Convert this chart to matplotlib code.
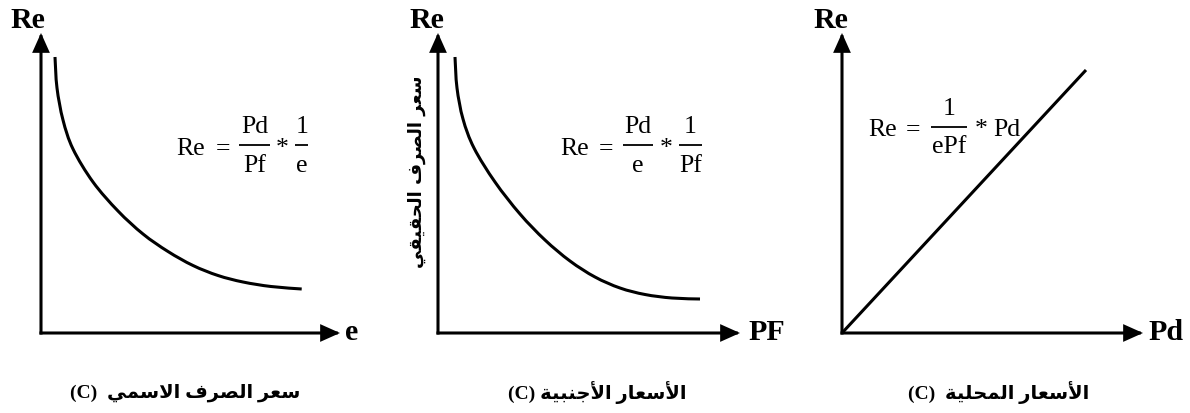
import matplotlib
matplotlib.use("Agg")
import matplotlib.pyplot as plt
from matplotlib.path import Path
from matplotlib.patches import PathPatch
from matplotlib.lines import Line2D
import numpy as np

# ---------------- data (units = pixels from each panel's origin) ----------------
curve1_x = [14, 16, 22, 32, 52, 77, 102, 127, 152, 177, 202, 230, 260.7]
curve1_y = [276, 245, 213, 184, 151, 122, 99, 81.5, 67.5, 57.5, 51, 46.5, 44]

curve2_x = [17, 19, 25, 36, 57, 82, 107, 132, 157, 182, 207, 234, 262]
curve2_y = [276, 245, 214, 185, 151, 119, 93, 72, 56, 45, 38.5, 35, 34]

line3_x = [0, 244]
line3_y = [0, 263]

axis_x_labels = ["e", "PF", "Pd"]
axis_y_label = "Re"
# equation pieces: fractions (numerator, denominator) and trailing term
eq_fracs = [[("Pd", "Pf"), ("1", "e")],
            [("Pd", "e"), ("1", "Pf")],
            [("1", "ePf")]]
eq_trail = ["", "", "Pd"]
captions_ar = ["سعر الصرف الاسمي", "الأسعار الأجنبية", "الأسعار المحلية"]
caption_tags = ["(C)  ", "(C) ", "(C)  "]
vertical_label = "سعر الصرف الحقيقي"

# ---------------- minimal Arabic shaping (matplotlib has no text shaping) ----------------
FORMS = {
    '\u0627': ('\uFE8D', '\uFE8E', None, None),
    '\u0623': ('\uFE83', '\uFE84', None, None),
    '\u0628': ('\uFE8F', '\uFE90', '\uFE91', '\uFE92'),
    '\u0629': ('\uFE93', '\uFE94', None, None),
    '\u062C': ('\uFE9D', '\uFE9E', '\uFE9F', '\uFEA0'),
    '\u062D': ('\uFEA1', '\uFEA2', '\uFEA3', '\uFEA4'),
    '\u0631': ('\uFEAD', '\uFEAE', None, None),
    '\u0633': ('\uFEB1', '\uFEB2', '\uFEB3', '\uFEB4'),
    '\u0635': ('\uFEB9', '\uFEBA', '\uFEBB', '\uFEBC'),
    '\u0639': ('\uFEC9', '\uFECA', '\uFECB', '\uFECC'),
    '\u0641': ('\uFED1', '\uFED2', '\uFED3', '\uFED4'),
    '\u0642': ('\uFED5', '\uFED6', '\uFED7', '\uFED8'),
    '\u0644': ('\uFEDD', '\uFEDE', '\uFEDF', '\uFEE0'),
    '\u0645': ('\uFEE1', '\uFEE2', '\uFEE3', '\uFEE4'),
    '\u0646': ('\uFEE5', '\uFEE6', '\uFEE7', '\uFEE8'),
    '\u064A': ('\uFEF1', '\uFEF2', '\uFEF3', '\uFEF4'),
}
LAM = '\u0644'
LIG = {'\u0627': ('\uFEFB', '\uFEFC'), '\u0623': ('\uFEF7', '\uFEF8')}


def shape_visual(text):
    items = []
    i = 0
    while i < len(text):
        c = text[i]
        if c == LAM and i + 1 < len(text) and text[i + 1] in LIG:
            items.append(('L', text[i + 1]))
            i += 2
        else:
            items.append(('C', c))
            i += 1

    def dual(it):
        return it is not None and it[0] == 'C' and it[1] in FORMS and FORMS[it[1]][2] is not None

    def arabic(it):
        return it is not None and (it[0] == 'L' or it[1] in FORMS)

    out = []
    for k, it in enumerate(items):
        prev = items[k - 1] if k > 0 else None
        nxt = items[k + 1] if k + 1 < len(items) else None
        jp = dual(prev)
        if it[0] == 'L':
            out.append(LIG[it[1]][1] if jp else LIG[it[1]][0])
            continue
        c = it[1]
        if c not in FORMS:
            out.append(c)
            continue
        iso, fin, ini, med = FORMS[c]
        jn = ini is not None and arabic(nxt)
        if jp and jn:
            out.append(med)
        elif jp:
            out.append(fin)
        elif jn:
            out.append(ini)
        else:
            out.append(iso)
    return ''.join(out)[::-1]


def smooth_path(xs, ys):
    """Catmull-Rom style cubic Bezier path through the read points."""
    P = np.column_stack([xs, ys]).astype(float)
    n = len(P)
    verts = [P[0]]
    codes = [Path.MOVETO]
    for i in range(n - 1):
        p0 = P[i - 1] if i > 0 else P[i]
        p1 = P[i]
        p2 = P[i + 1]
        p3 = P[i + 2] if i + 2 < n else P[i + 1]
        c1 = p1 + (p2 - p0) / 6.0
        c2 = p2 - (p3 - p1) / 6.0
        verts += [c1, c2, p2]
        codes += [Path.CURVE4] * 3
    return Path(verts, codes)


# ---------------- figure ----------------
W, H = 1190, 414
fig = plt.figure(figsize=(W / 100, H / 100), dpi=100)
fig.patch.set_facecolor('white')


def fx(px):
    return px / W


def fy(py):
    return 1 - py / H


panels = [
    dict(ox=41, oy=334, xt=340, yt=34),
    dict(ox=438, oy=334, xt=740, yt=34),
    dict(ox=842, oy=334, xt=1143, yt=34),
]
series = [(curve1_x, curve1_y, True), (curve2_x, curve2_y, True), (line3_x, line3_y, False)]

LW = 2.2
for p, (sx, sy, curved) in zip(panels, series):
    ax = fig.add_axes([fx(p['ox']), fy(p['oy']), (p['xt'] - p['ox']) / W, (p['oy'] - p['yt']) / H])
    ax.set_xlim(0, p['xt'] - p['ox'])
    ax.set_ylim(0, p['oy'] - p['yt'])
    ax.axis('off')
    arrow_kw = dict(arrowstyle='-|>,head_length=1.05,head_width=0.47', lw=LW, color='black',
                    shrinkA=0, shrinkB=0, mutation_scale=10, joinstyle='miter',
                    capstyle='projecting')
    ax.annotate('', xy=(1, 0), xytext=(0, 0), xycoords='axes fraction',
                arrowprops=arrow_kw, annotation_clip=False)
    ax.annotate('', xy=(0, 1), xytext=(0, 0), xycoords='axes fraction',
                arrowprops=arrow_kw, annotation_clip=False)
    if curved:
        ax.add_patch(PathPatch(smooth_path(sx, sy), fill=False, lw=LW, edgecolor='black',
                               capstyle='butt', clip_on=False))
    else:
        ax.plot(sx, sy, color='black', lw=LW, solid_capstyle='butt', clip_on=False)

bold_serif = dict(family='Liberation Serif', weight='bold', size=21.5, color='black')

# y-axis labels
for cx in (27.5, 426.5, 830.5):
    fig.text(fx(cx), fy(28), axis_y_label, ha='center', va='baseline', **bold_serif)
# x-axis labels
for lx, lab in zip((345, 748, 1148), axis_x_labels):
    fig.text(fx(lx), fy(340), lab, ha='left', va='baseline', **bold_serif)

# equations (drawn piece by piece to get full-size stacked fractions)
eq_font = dict(family='Liberation Serif', size=18.5, color='black')
eq_layout = [
    dict(re_x=176.7, bar_y=146, eq_x=223, bars=[(239.3, 270.0), (295.0, 308.3)], stars=[281.7], trail_x=None),
    dict(re_x=560.0, bar_y=146, eq_x=606.5, bars=[(623.3, 652.7), (679.3, 701.7)], stars=[665.7], trail_x=None),
    dict(re_x=868.3, bar_y=127.5, eq_x=913.3, bars=[(930.7, 967.3)], stars=[980.8], trail_x=993.0),
]
for fracs, trail, L in zip(eq_fracs, eq_trail, eq_layout):
    by = L['bar_y']
    base = by + 9
    fig.text(fx(L['re_x']), fy(base), "Re", ha='left', va='baseline', **eq_font)
    fig.text(fx(L['eq_x']), fy(base), "=", ha='center', va='baseline', **eq_font)
    for (num, den), (x0, x1) in zip(fracs, L['bars']):
        fig.add_artist(Line2D([fx(x0), fx(x1)], [fy(by), fy(by)], lw=1.3, color='black',
                              transform=fig.transFigure, solid_capstyle='butt'))
        cx = (x0 + x1) / 2
        fig.text(fx(cx), fy(by - 12.7), num, ha='center', va='baseline', **eq_font)
        fig.text(fx(cx), fy(by + 25.7), den, ha='center', va='baseline', **eq_font)
    for sx_ in L['stars']:
        fig.text(fx(sx_), fy(by + 3), "*", ha='center', va='center', **eq_font)
    if trail:
        fig.text(fx(L['trail_x']), fy(base), trail, ha='left', va='baseline', **eq_font)

# captions
for cx, ar, tag in zip((185, 597.5, 998.5), captions_ar, caption_tags):
    fig.text(fx(cx), fy(393), tag + shape_visual(ar), ha='center', va='center',
             family=['Liberation Serif', 'DejaVu Sans'], weight='bold', size=14, color='black')

# vertical Arabic label (middle panel)
fig.text(fx(417), fy(172), shape_visual(vertical_label), ha='center', va='center',
         rotation=90, family=['DejaVu Sans'], weight='bold', size=13, color='black')

fig.savefig('out.png', dpi=100, facecolor='white')
